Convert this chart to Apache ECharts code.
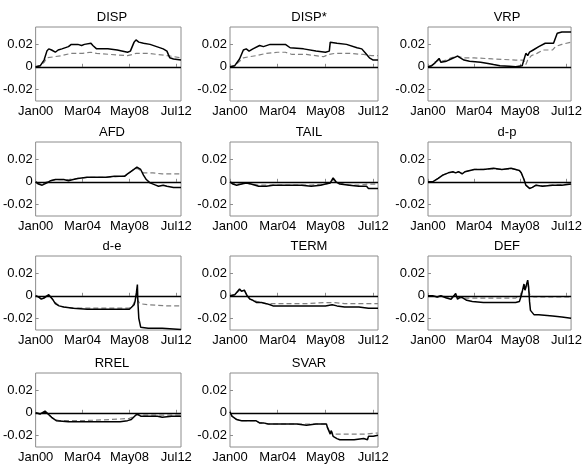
<!DOCTYPE html>
<html>
<head>
<meta charset="utf-8">
<script src="https://cdn.jsdelivr.net/npm/echarts@6/dist/echarts.min.js"></script>
<style>
  html, body { margin: 0; padding: 0; background: #fff; }
  #chart { width: 585px; height: 467px; }
</style>
</head>
<body>
<div id="chart"></div>
<script>
// x = months since Jan 2000, y = value
const titles = ['DISP', 'DISP*', 'VRP', 'AFD', 'TAIL', 'd-p', 'd-e', 'TERM', 'DEF', 'RREL', 'SVAR'];
const xTickMonths = [0, 50, 100, 150];
const xTickLabels = ['Jan00', 'Mar04', 'May08', 'Jul12'];
const yTicks = [-0.02, 0, 0.02];

const dispSolid = [[0,0],[5,0.001],[9,0.006],[12,0.014],[14,0.016],[17,0.015],[21,0.013],[24,0.015],[28,0.016],[35,0.018],[38,0.020],[45,0.020],[49,0.019],[52,0.020],[59,0.021],[61,0.019],[65,0.016],[77,0.016],[87,0.015],[98,0.013],[101,0.014],[105,0.022],[107,0.024],[110,0.022],[115,0.021],[122,0.020],[129,0.018],[136,0.016],[140,0.014],[141,0.015],[142,0.010],[143,0.008],[147,0.007],[155,0.006]];
const dispDashed = [[0,0],[5,0.001],[9,0.004],[12,0.008],[20,0.009],[28,0.010],[38,0.012],[50,0.012],[59,0.013],[65,0.012],[80,0.011],[98,0.010],[103,0.011],[107,0.012],[120,0.012],[130,0.011],[140,0.010],[148,0.009],[155,0.008]];

const dispStarSolid = [[0,0],[5,0.001],[10,0.007],[14,0.015],[17,0.016],[20,0.014],[24,0.016],[26,0.017],[31,0.019],[35,0.018],[42,0.020],[58,0.020],[63,0.017],[77,0.016],[90,0.014],[100,0.013],[104,0.014],[105,0.022],[107,0.023],[112,0.021],[122,0.020],[133,0.017],[138,0.016],[142,0.012],[146,0.008],[150,0.006],[155,0.006]];
const dispStarDashed = [[0,0],[5,0.001],[10,0.005],[14,0.008],[20,0.009],[28,0.010],[38,0.012],[50,0.013],[58,0.013],[65,0.011],[80,0.011],[98,0.009],[103,0.011],[110,0.012],[125,0.012],[140,0.011],[148,0.010],[155,0.010]];

const vrpSolid = [[0,0],[4,0.001],[7,0.003],[12,0.0075],[14,0.004],[20,0.005],[25,0.007],[32,0.0095],[35,0.008],[39,0.006],[45,0.005],[57,0.004],[65,0.003],[71,0.002],[78,0.001],[88,0.0005],[95,0],[102,0.001],[104,0.002],[106,0.012],[108,0.010],[110,0.013],[114,0.015],[120,0.018],[127,0.021],[136,0.021],[138,0.022],[140,0.030],[145,0.031],[155,0.031]];
const vrpDashed = [[0,0],[4,0.001],[7,0.004],[12,0.006],[15,0.005],[20,0.006],[25,0.008],[32,0.0095],[38,0.008],[50,0.008],[70,0.007],[95,0.006],[103,0.006],[106,0.002],[108,0.006],[112,0.010],[118,0.012],[125,0.015],[135,0.015],[138,0.018],[145,0.020],[155,0.022]];

const afdSolid = [[0,0],[3,-0.002],[7,-0.003],[12,-0.001],[16,0.001],[21,0.002],[30,0.002],[35,0.001],[40,0.002],[45,0.003],[55,0.004],[63,0.004],[75,0.004],[84,0.005],[95,0.005],[98,0.007],[103,0.010],[108,0.013],[112,0.011],[115,0.006],[118,0.002],[122,-0.001],[124,0],[128,-0.003],[131,-0.004],[136,-0.003],[140,-0.004],[147,-0.005],[155,-0.005]];
const afdDashed = [[0,0],[3,-0.001],[7,-0.002],[12,0],[16,0.001],[21,0.002],[30,0.002],[35,0.002],[45,0.003],[55,0.004],[75,0.004],[95,0.005],[100,0.008],[104,0.011],[108,0.012],[112,0.010],[115,0.008],[125,0.008],[135,0.007],[145,0.007],[155,0.007]];

const tailSolid = [[0,0],[3,-0.002],[7,-0.003],[12,-0.002],[17,-0.001],[22,-0.002],[30,-0.004],[38,-0.004],[45,-0.003],[60,-0.003],[75,-0.003],[85,-0.004],[95,-0.003],[100,-0.002],[105,-0.001],[108,0.0035],[111,0],[115,-0.002],[125,-0.003],[135,-0.004],[143,-0.004],[145,-0.006],[155,-0.006]];
const tailDashed = [[0,0],[3,-0.001],[7,-0.002],[12,-0.002],[17,-0.001],[22,-0.002],[30,-0.003],[45,-0.003],[60,-0.003],[85,-0.003],[100,-0.002],[105,-0.001],[108,0.002],[111,0],[115,-0.001],[125,-0.003],[135,-0.003],[145,-0.002],[155,-0.002]];

const dpSolid = [[0,0],[5,0],[11,0.003],[16,0.006],[22,0.008],[27,0.009],[30,0.008],[33,0.009],[37,0.007],[40,0.009],[42,0.010],[50,0.011],[60,0.011],[71,0.012],[80,0.011],[90,0.012],[95,0.011],[99,0.010],[101,0.008],[104,0.002],[106,-0.003],[110,-0.006],[113,-0.005],[117,-0.003],[124,-0.004],[135,-0.003],[145,-0.003],[155,-0.002]];
const dpDashed = [[0,0],[5,0],[11,0.003],[16,0.006],[22,0.008],[27,0.0085],[30,0.008],[33,0.009],[37,0.0075],[40,0.009],[42,0.010],[50,0.011],[60,0.011],[71,0.0115],[80,0.011],[90,0.0115],[95,0.011],[99,0.010],[101,0.008],[104,0.002],[106,-0.003],[110,-0.0055],[113,-0.005],[117,-0.003],[124,-0.0035],[135,-0.003],[145,-0.0025],[155,-0.002]];

const deSolid = [[0,0],[3,-0.001],[6,-0.003],[9,-0.002],[14,0.001],[16,0],[18,-0.003],[21,-0.007],[25,-0.009],[30,-0.010],[40,-0.011],[55,-0.012],[70,-0.012],[85,-0.012],[100,-0.012],[101,-0.011],[105,-0.008],[106,-0.005],[107.5,0.003],[108.5,0.010],[109,-0.005],[110,-0.020],[112,-0.028],[120,-0.029],[135,-0.029],[155,-0.030]];
const deDashed = [[0,0],[3,-0.001],[6,-0.002],[9,-0.001],[14,0.001],[16,0],[18,-0.003],[21,-0.006],[25,-0.009],[30,-0.010],[40,-0.011],[55,-0.011],[70,-0.011],[85,-0.011],[100,-0.011],[104,-0.008],[106,-0.004],[108,0.001],[109,-0.004],[111,-0.007],[120,-0.008],[140,-0.009],[155,-0.009]];

const termSolid = [[0,0],[5,0.001],[10,0.006],[12,0.004],[15,0.005],[16,0.004],[18,0],[21,-0.003],[24,-0.004],[28,-0.006],[30,-0.005],[33,-0.006],[38,-0.007],[42,-0.008],[45,-0.009],[60,-0.009],[80,-0.009],[100,-0.009],[107,-0.008],[112,-0.009],[120,-0.010],[135,-0.010],[145,-0.011],[155,-0.011]];
const termDashed = [[0,0],[5,0.001],[10,0.005],[12,0.004],[15,0.005],[16,0.004],[18,0],[21,-0.003],[24,-0.004],[28,-0.005],[33,-0.006],[38,-0.007],[45,-0.007],[80,-0.007],[100,-0.006],[110,-0.006],[120,-0.007],[155,-0.007]];

const defSolid = [[0,0],[5,0],[10,-0.001],[14,0],[20,-0.002],[25,-0.003],[30,0.002],[32,-0.003],[35,-0.001],[38,-0.002],[42,-0.004],[48,-0.005],[60,-0.006],[80,-0.006],[95,-0.006],[99,-0.005],[101,0],[104,0.0105],[105,0.005],[108,0.014],[109,0.008],[110,-0.005],[111,-0.013],[115,-0.017],[120,-0.017],[135,-0.018],[145,-0.019],[155,-0.020]];
const defDashed = [[0,0],[5,0],[10,-0.001],[14,0],[20,-0.001],[25,-0.002],[30,0.001],[32,-0.002],[35,-0.002],[60,-0.002],[95,-0.002],[100,0],[104,0.008],[105,0.004],[108,0.012],[109,0.004],[111,0],[115,-0.001],[155,-0.001]];

const rrelSolid = [[0,0],[5,-0.001],[10,0.0015],[12,0],[17,-0.004],[22,-0.007],[24,-0.008],[35,-0.008],[50,-0.008],[70,-0.008],[90,-0.008],[98,-0.007],[102,-0.006],[108,-0.001],[112,-0.003],[130,-0.003],[135,-0.004],[145,-0.003],[155,-0.003]];
const rrelDashed = [[0,0],[5,-0.001],[10,0.001],[12,0],[17,-0.004],[20,-0.006],[25,-0.007],[50,-0.007],[80,-0.006],[100,-0.005],[108,-0.002],[130,-0.002],[155,-0.002]];

const svarSolid = [[0,0.001],[2,-0.003],[7,-0.006],[12,-0.007],[19,-0.007],[27,-0.007],[31,-0.009],[35,-0.009],[40,-0.010],[55,-0.010],[70,-0.010],[80,-0.011],[90,-0.010],[101,-0.010],[102,-0.013],[105,-0.019],[106,-0.016],[108,-0.021],[110,-0.020],[112,-0.023],[115,-0.024],[130,-0.024],[140,-0.023],[144,-0.024],[145,-0.021],[150,-0.021],[155,-0.020]];
const svarDashed = [[0,0.001],[2,-0.003],[7,-0.006],[12,-0.007],[19,-0.007],[27,-0.007],[31,-0.009],[35,-0.009],[40,-0.010],[55,-0.010],[70,-0.010],[90,-0.010],[101,-0.010],[102,-0.013],[105,-0.018],[106,-0.016],[108,-0.019],[120,-0.019],[140,-0.019],[155,-0.018]];

const solids = [dispSolid, dispStarSolid, vrpSolid, afdSolid, tailSolid, dpSolid, deSolid, termSolid, defSolid, rrelSolid, svarSolid];
const dasheds = [dispDashed, dispStarDashed, vrpDashed, afdDashed, tailDashed, dpDashed, deDashed, termDashed, defDashed, rrelDashed, svarDashed];

const colLeft = [33, 230, 428];
const rowTop = [27, 142, 256, 373];
const boxW = 148, boxH = 74;
const font = 'Liberation Sans, Arial, sans-serif';

const chart = echarts.init(document.getElementById('chart'), null, {renderer: 'canvas'});

const grid = [], xAxis = [], yAxis = [], series = [], title = [];
titles.forEach((name, i) => {
  const left = colLeft[i % 3], top = rowTop[Math.floor(i / 3)];
  grid.push({left: left, top: top, width: boxW, height: boxH, show: true,
    borderColor: '#8c8c8c', borderWidth: 1, backgroundColor: '#fff'});
  title.push({text: name, left: left + boxW / 2, top: top - 21, textAlign: 'center',
    textStyle: {fontFamily: font, fontSize: 13, fontWeight: 'normal', color: '#000'}});
  xAxis.push({type: 'value', gridIndex: i, min: 0, max: 155,
    axisLine: {show: false}, splitLine: {show: false},
    axisTick: {inside: true, length: 3, lineStyle: {color: '#8c8c8c'}, customValues: xTickMonths},
    axisLabel: {customValues: xTickMonths, margin: 4, color: '#000', fontFamily: font, fontSize: 13,
      formatter: v => xTickLabels[xTickMonths.indexOf(v)] || ''}});
  yAxis.push({type: 'value', gridIndex: i, min: -0.0305, max: 0.0355,
    axisLine: {show: false}, splitLine: {show: false},
    axisTick: {inside: true, length: 3, lineStyle: {color: '#8c8c8c'}, customValues: yTicks},
    axisLabel: {customValues: yTicks, margin: 3, color: '#000', fontFamily: font, fontSize: 13,
      formatter: v => Math.abs(v) < 1e-9 ? '0' : v.toFixed(2)}});
  series.push({type: 'line', xAxisIndex: i, yAxisIndex: i, data: dasheds[i], symbol: 'none',
    silent: true, lineStyle: {color: '#808080', width: 1.2, type: [5, 3]}, z: 2});
  series.push({type: 'line', xAxisIndex: i, yAxisIndex: i, data: solids[i], symbol: 'none',
    silent: true, lineStyle: {color: '#000', width: 1.5}, z: 3,
    markLine: {silent: true, symbol: 'none', label: {show: false},
      lineStyle: {color: '#000', width: 1.3, type: 'solid'}, data: [{yAxis: 0}]}});
});

chart.setOption({animation: false, backgroundColor: '#fff', title, grid, xAxis, yAxis, series});
</script>
</body>
</html>
